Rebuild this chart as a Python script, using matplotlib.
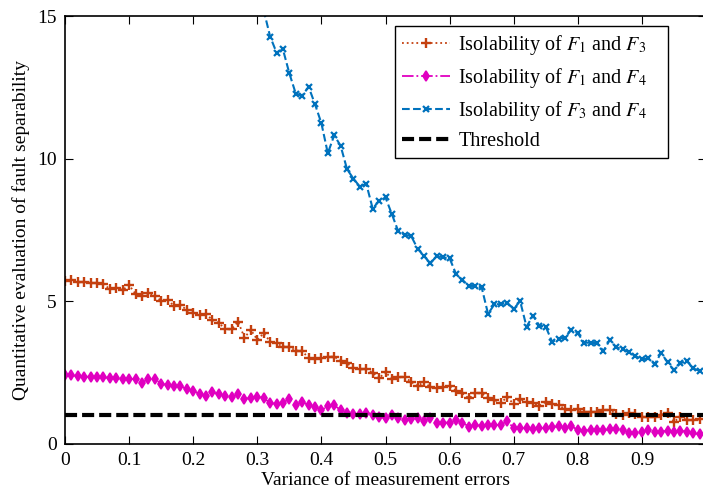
import numpy as np
import matplotlib.pyplot as plt

plt.rcParams['font.family'] = ['Liberation Serif', 'DejaVu Serif']
plt.rcParams['mathtext.fontset'] = 'stix'

# variance of measurement errors, 0 : 0.01 : 0.99
x = np.arange(100) / 100.0

f13 = [5.71, 5.75, 5.67, 5.67, 5.65, 5.63, 5.60, 5.43, 5.48, 5.40,
       5.57, 5.26, 5.19, 5.30, 5.20, 5.02, 5.05, 4.84, 4.87, 4.70,
       4.60, 4.52, 4.55, 4.35, 4.25, 4.02, 4.02, 4.29, 3.73, 4.00,
       3.65, 3.88, 3.59, 3.53, 3.41, 3.41, 3.27, 3.27, 3.00, 2.97,
       3.00, 3.06, 3.06, 2.92, 2.83, 2.65, 2.62, 2.62, 2.50, 2.30,
       2.53, 2.27, 2.34, 2.34, 2.18, 2.03, 2.18, 1.99, 1.95, 1.99,
       2.03, 1.87, 1.78, 1.60, 1.78, 1.78, 1.60, 1.54, 1.45, 1.64,
       1.40, 1.57, 1.47, 1.43, 1.34, 1.48, 1.40, 1.37, 1.22, 1.19,
       1.22, 1.13, 1.13, 1.13, 1.19, 1.19, 1.05, 1.02, 1.10, 1.05,
       0.94, 0.96, 0.94, 1.02, 1.10, 0.78, 0.94, 0.84, 0.84, 0.86]

f14 = [2.41, 2.41, 2.38, 2.36, 2.36, 2.34, 2.34, 2.31, 2.30, 2.28,
       2.27, 2.28, 2.15, 2.28, 2.29, 2.10, 2.08, 2.02, 2.04, 1.92,
       1.87, 1.75, 1.69, 1.81, 1.75, 1.69, 1.64, 1.75, 1.58, 1.62,
       1.66, 1.62, 1.43, 1.41, 1.45, 1.58, 1.36, 1.48, 1.36, 1.31,
       1.19, 1.33, 1.36, 1.19, 1.10, 1.05, 1.05, 1.10, 1.02, 0.96,
       0.90, 1.02, 0.90, 0.84, 0.87, 0.90, 0.82, 0.90, 0.75, 0.75,
       0.75, 0.84, 0.75, 0.61, 0.67, 0.63, 0.65, 0.67, 0.67, 0.81,
       0.55, 0.55, 0.55, 0.51, 0.55, 0.55, 0.58, 0.63, 0.55, 0.63,
       0.49, 0.47, 0.49, 0.49, 0.49, 0.51, 0.51, 0.49, 0.40, 0.40,
       0.43, 0.49, 0.43, 0.43, 0.47, 0.43, 0.47, 0.43, 0.37, 0.35]

# F3/F4 runs off the top of the axes below 0.31
x34 = x[30:]
f34 = [16.10, 15.20, 14.28, 13.72, 13.83, 12.99, 12.28, 12.20, 12.52, 11.91,
       11.24, 10.19, 10.82, 10.45, 9.63, 9.30, 9.02, 9.12, 8.25, 8.52,
       8.64, 8.05, 7.45, 7.33, 7.29, 6.85, 6.59, 6.33, 6.59, 6.54,
       6.51, 5.96, 5.75, 5.54, 5.54, 5.49, 4.56, 4.90, 4.90, 4.95,
       4.73, 5.01, 4.11, 4.50, 4.15, 4.11, 3.58, 3.69, 3.73, 4.00,
       3.88, 3.55, 3.55, 3.53, 3.26, 3.65, 3.39, 3.32, 3.21, 3.08,
       2.97, 3.00, 2.79, 3.20, 2.86, 2.59, 2.83, 2.91, 2.65, 2.56]

threshold = 1.0

fig = plt.figure(figsize=(7.03, 4.92), dpi=100)
ax = fig.add_axes([65 / 703, 48 / 492, 641 / 703, 428 / 492])

ax.plot(x, f13, ':', color='#C4400F', lw=1.3, marker='+', ms=7.5, mew=1.7,
        label=r'Isolability of $F_1$ and $F_3$')
ax.plot(x, f14, '-.', color='#E000C0', lw=1.3, marker='d', ms=5.5, mew=1.2,
        label=r'Isolability of $F_1$ and $F_4$')
ax.plot(x34, f34, '--', color='#0072BD', lw=1.5, marker='x', ms=4.5, mew=1.6,
        label=r'Isolability of $F_3$ and $F_4$')
ax.axhline(threshold, color='black', ls='--', lw=3, dashes=(2.9, 1.2), label='Threshold')

ax.set_xlim(0, 1)
ax.set_ylim(0, 15)
ax.set_xticks(np.arange(10) / 10)
ax.set_xticklabels(['0'] + ['%.1f' % v for v in np.arange(1, 10) / 10])
ax.set_yticks([0, 5, 10, 15])
ax.tick_params(direction='in', top=True, right=True, length=6, labelsize=14, pad=6)
for s in ax.spines.values():
    s.set_linewidth(1.2)

ax.set_xlabel('Variance of measurement errors', fontsize=14, labelpad=2)
ax.set_ylabel('Quantitative evaluation of fault separability', fontsize=14, labelpad=5)

# legend box spans a fixed area, text left-aligned with spare room on the right
leg = ax.legend(loc='upper left', bbox_to_anchor=(0.5148, 0.6659, 0.4259, 0.3107),
                mode='expand', borderaxespad=0,
                fontsize=14.5, fancybox=False, edgecolor='black', framealpha=1,
                handlelength=2.4, handletextpad=0.4, labelspacing=0.44,
                borderpad=0.35)
leg.get_frame().set_linewidth(1.0)

fig.savefig('out.png', dpi=100)
